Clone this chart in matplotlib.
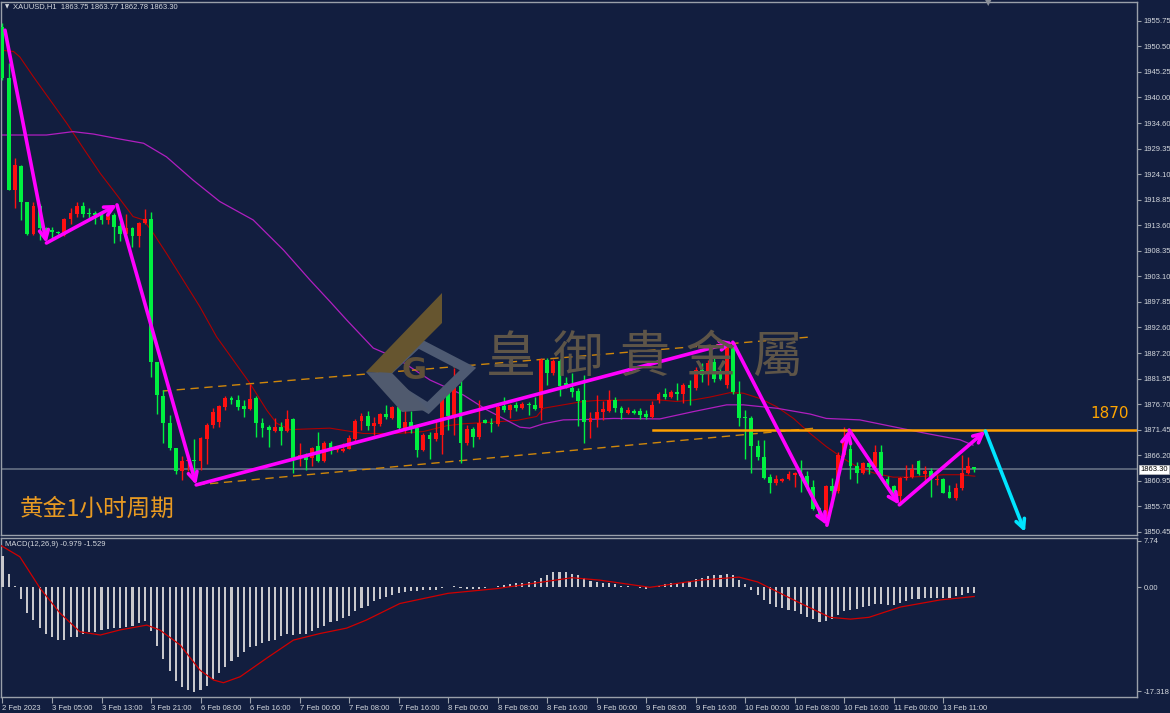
import matplotlib
matplotlib.use('Agg')
import matplotlib.pyplot as plt
from matplotlib.patches import Polygon
import matplotlib.transforms as mtransforms
import numpy as np

# ---------------- data ----------------
opens = [1954.4,1943.9,1920.9,1925.9,1918.3,1911.9,1917.6,1913.0,1912.6,1912.2,
         1911.6,1914.8,1915.9,1917.6,1916.2,1916.2,1915.7,1914.7,1915.7,1913.4,
         1911.9,1913.0,1911.4,1914.1,1914.8,1885.5,1878.4,1872.8,1867.8,1863.0,
         1865.0,1865.3,1865.1,1869.5,1872.4,1873.1,1876.2,1878.1,1877.7,1876.3,
         1875.7,1878.1,1872.9,1872.1,1871.3,1872.1,1871.3,1873.6,1865.6,1866.2,
         1865.6,1868.1,1865.1,1868.8,1867.2,1867.0,1867.6,1869.5,1873.3,1874.3,
         1872.3,1872.7,1874.7,1873.8,1876.1,1871.8,1873.1,1871.8,1867.2,1870.4,
         1869.5,1870.4,1879.3,1874.2,1880.4,1868.8,1871.6,1869.9,1873.5,1872.9,
         1872.7,1876.4,1875.6,1876.6,1875.9,1876.8,1876.6,1875.9,1885.9,1883.2,
         1885.7,1881.0,1880.0,1879.5,1877.5,1873.1,1873.6,1875.2,1875.4,1877.7,
         1875.9,1875.0,1875.4,1875.4,1874.7,1874.0,1877.6,1878.9,1878.3,1879.3,
         1878.8,1880.7,1880.0,1883.8,1883.0,1885.5,1883.1,1880.7,1888.7,1878.8,
         1874.0,1873.8,1868.1,1865.9,1861.7,1860.4,1861.0,1861.3,1862.2,1862.3,
         1861.9,1859.7,1855.3,1853.6,1859.9,1858.9,1866.3,1867.4,1863.9,1862.5,
         1864.6,1863.7,1866.8,1861.3,1859.8,1857.8,1861.5,1861.7,1865.1,1862.4,
         1862.9,1861.1,1861.3,1858.7,1857.5,1859.4,1862.5,1863.75]
highs = [1955.2,1947.0,1927.4,1926.0,1918.3,1918.3,1917.9,1913.3,1913.3,1912.4,
         1915.0,1917.1,1918.3,1918.5,1917.1,1916.6,1916.6,1916.4,1916.2,1914.3,
         1915.9,1913.3,1914.3,1916.9,1916.4,1885.5,1879.6,1874.5,1867.8,1866.0,
         1866.5,1869.5,1870.0,1872.8,1875.9,1876.5,1878.4,1878.4,1878.6,1877.5,
         1880.9,1878.4,1873.8,1872.4,1873.8,1873.1,1875.5,1873.8,1868.7,1866.6,
         1867.9,1871.0,1869.2,1869.2,1867.9,1868.7,1870.4,1873.6,1874.9,1875.4,
         1874.1,1874.9,1876.6,1876.4,1877.6,1877.7,1875.4,1872.0,1870.7,1871.1,
         1873.1,1879.5,1880.0,1884.1,1882.6,1872.5,1872.1,1877.7,1873.6,1873.8,
         1876.6,1878.2,1876.8,1877.1,1877.1,1877.1,1878.2,1886.2,1886.2,1886.0,
         1886.0,1882.4,1883.2,1880.0,1882.8,1875.2,1878.6,1877.3,1879.7,1878.2,
         1876.4,1876.1,1875.8,1875.9,1875.5,1877.3,1879.3,1880.0,1879.6,1881.2,
         1881.0,1881.7,1884.5,1885.2,1885.9,1886.5,1884.1,1889.3,1889.6,1881.6,
         1875.5,1874.2,1869.4,1869.4,1862.4,1862.2,1861.5,1862.9,1862.8,1865.2,
         1863.0,1861.2,1855.6,1860.1,1861.5,1866.8,1872.0,1869.7,1864.9,1864.9,
         1864.9,1868.3,1868.3,1861.9,1860.1,1861.8,1864.2,1864.5,1865.2,1863.9,
         1863.5,1862.2,1861.5,1860.1,1860.4,1866.3,1865.9,1863.77]
lows = [1943.5,1920.9,1917.1,1914.7,1911.6,1911.6,1910.6,1911.2,1911.0,1911.8,
        1911.4,1913.9,1915.4,1915.4,1915.0,1913.9,1913.9,1913.9,1909.9,1910.4,
        1911.6,1909.2,1909.2,1913.9,1882.4,1874.8,1868.7,1867.3,1862.3,1861.1,
        1863.0,1861.1,1863.2,1864.5,1871.9,1872.0,1875.5,1876.8,1875.5,1874.0,
        1875.5,1869.9,1870.0,1868.0,1871.1,1868.3,1871.1,1862.6,1863.9,1863.2,
        1864.0,1864.9,1864.8,1866.5,1866.8,1866.8,1867.4,1869.2,1871.4,1871.4,
        1870.4,1872.3,1873.6,1873.6,1871.4,1870.7,1870.7,1865.8,1867.0,1865.4,
        1869.2,1866.5,1871.4,1870.4,1864.6,1868.3,1867.9,1869.5,1872.8,1871.1,
        1872.3,1875.2,1873.8,1875.4,1875.7,1874.5,1875.5,1873.5,1880.7,1882.8,
        1878.4,1880.0,1878.2,1872.3,1868.8,1869.7,1872.0,1873.5,1875.2,1875.2,
        1873.6,1874.7,1874.8,1873.6,1873.6,1873.8,1877.0,1877.9,1878.0,1877.6,
        1876.9,1876.6,1879.7,1881.4,1880.7,1881.4,1881.7,1880.0,1878.9,1872.3,
        1865.4,1862.5,1865.2,1861.3,1858.5,1860.1,1860.8,1861.1,1859.6,1858.7,
        1859.1,1854.9,1853.2,1851.9,1855.6,1858.4,1866.0,1861.3,1860.4,1862.3,
        1862.3,1863.5,1861.3,1859.4,1857.5,1856.0,1861.1,1861.5,1862.2,1860.8,
        1857.7,1860.1,1858.4,1857.4,1857.0,1859.1,1862.3,1862.78]
closes = [1943.9,1920.9,1926.0,1918.3,1911.9,1917.6,1913.0,1912.5,1912.2,1912.0,
          1914.8,1916.2,1917.6,1915.9,1915.9,1915.7,1914.7,1915.7,1913.3,1911.9,
          1913.0,1911.4,1914.1,1914.8,1885.5,1878.6,1872.9,1867.8,1863.0,1865.0,
          1865.3,1865.0,1869.7,1872.4,1875.2,1876.3,1878.1,1877.6,1876.2,1875.7,
          1877.9,1872.9,1871.9,1871.4,1872.1,1871.3,1873.6,1865.6,1866.2,1865.3,
          1867.8,1865.1,1868.8,1867.0,1867.6,1867.6,1869.7,1873.3,1874.3,1872.3,
          1872.9,1874.7,1874.0,1876.1,1871.8,1873.1,1872.0,1867.2,1870.4,1869.5,
          1870.7,1879.3,1874.2,1880.4,1868.8,1871.6,1869.9,1872.8,1872.9,1872.7,
          1876.2,1875.5,1876.6,1875.9,1876.8,1876.6,1875.7,1885.9,1883.2,1885.7,
          1880.4,1880.7,1879.3,1877.3,1873.1,1873.8,1875.2,1875.7,1877.7,1875.9,
          1875.0,1875.5,1875.0,1874.5,1874.0,1876.6,1878.9,1878.3,1879.3,1878.8,
          1880.7,1880.0,1883.8,1882.8,1885.3,1881.9,1881.9,1888.6,1879.3,1873.8,
          1873.8,1868.1,1865.9,1861.5,1860.4,1861.3,1861.3,1862.4,1862.6,1862.0,
          1859.7,1855.1,1853.6,1859.9,1858.9,1866.3,1869.4,1863.9,1862.5,1864.6,
          1863.7,1866.8,1861.9,1859.6,1857.8,1861.5,1861.8,1863.3,1862.4,1862.9,
          1861.7,1861.4,1858.5,1857.4,1859.4,1862.5,1863.9,1863.30]

macd_hist = [5.3,2.3,0.3,-1.9,-4.2,-5.4,-6.7,-7.7,-8.3,-8.8,
             -8.8,-8.2,-8.2,-7.8,-7.5,-7.5,-7.1,-6.9,-6.7,-6.7,
             -6.6,-6.4,-6.0,-5.6,-7.2,-9.7,-11.9,-13.9,-15.6,-16.6,
             -17.1,-17.5,-17.1,-16.4,-15.3,-14.3,-13.3,-12.3,-11.6,-10.8,
             -10.0,-9.7,-9.3,-9.0,-8.8,-8.1,-7.7,-7.9,-7.8,-7.7,
             -7.3,-6.7,-6.4,-5.8,-5.6,-5.1,-4.7,-3.9,-3.4,-3.1,
             -2.3,-1.9,-1.6,-1.2,-1.0,-0.8,-0.6,-0.6,-0.5,-0.5,
             -0.4,-0.1,0.0,0.3,-0.1,-0.2,-0.3,-0.2,-0.1,0.0,
             0.2,0.4,0.5,0.7,0.8,0.9,1.0,1.6,2.1,2.5,
             2.6,2.5,2.3,2.0,1.5,1.1,0.9,0.8,0.7,0.5,
             0.3,0.2,0.0,-0.1,-0.2,0.1,0.3,0.5,0.7,0.8,
             0.9,1.1,1.4,1.6,1.9,2.0,2.0,2.3,2.0,1.3,
             0.5,-0.5,-1.3,-2.1,-2.8,-3.2,-3.5,-3.7,-4.0,-4.4,
             -4.9,-5.3,-5.8,-5.6,-5.2,-4.6,-4.0,-3.8,-3.6,-3.3,
             -3.1,-2.8,-2.8,-2.9,-2.9,-2.6,-2.3,-2.0,-1.9,-1.8,
             -1.8,-1.7,-1.7,-1.7,-1.5,-1.2,-1.0,-0.979]

signal_idx = [-0.4,2.8,6.1,9.3,12.5,15.8,19.0,23.3,25.4,28.7,31.9,34.1,35.7,
              38.4,42.7,47.0,51.3,55.6,58.8,64.2,72.0,80.0,88.0,92.0,96.5,
              104.6,112.7,119.0,122.0,128.8,133.7,137.0,140.0,145.0,151.5,157.0]
signal_val = [7.05,5.1,-0.2,-4.3,-7.4,-7.95,-7.1,-6.3,-7.1,-9.6,-13.8,-15.45,-15.9,
              -14.9,-11.8,-8.8,-7.7,-6.8,-5.45,-2.7,-1.0,-0.2,1.0,1.6,1.2,
              0.0,1.2,1.7,0.9,-2.6,-5.0,-5.3,-5.0,-3.3,-2.1,-1.529]

ma_fast_idx = [-0.4,1.8,2.8,5.0,7.7,10.4,13.1,15.8,18.5,21.1,22.8,24.4,26.5,29.2,
               31.9,34.6,37.3,40.0,42.7,44.3,46.5,50.8,52.9,58.3,63.7,68.0,71.8,
               74.5,79.8,83.1,86.3,87.4,90.6,93.8,96.0,101.4,106.2,108.9,111.6,
               114.3,117.5,119.7,122.4,125.1,127.8,130.5,133.1,135.8,138.5,141.2,
               143.9,146.6,149.3,152.0,154.7,157.1]
ma_fast_val = [1949.7,1949.4,1948.3,1944.2,1939.4,1934.6,1929.4,1924.3,1919.8,1915.4,
               1914.7,1911.9,1907.8,1902.3,1896.8,1890.6,1885.8,1881.0,1875.5,1872.8,
               1871.5,1871.7,1871.8,1870.7,1870.7,1871.1,1872.3,1872.7,1873.1,1873.4,
               1874.2,1875.9,1876.6,1877.3,1877.5,1877.6,1877.6,1877.3,1877.6,1878.2,
               1879.1,1879.0,1877.9,1876.2,1873.8,1870.7,1868.0,1865.6,1863.5,1862.4,
               1861.7,1861.7,1861.9,1862.2,1862.2,1861.9]

ma_slow_idx = [-0.4,7.1,11.4,14.7,18.4,22.8,26.5,30.8,35.1,40.5,45.4,49.7,52.9,
               55.6,59.9,63.7,69.1,74.5,78.2,80.9,83.6,85.2,87.4,90.6,94.9,98.7,
               106.2,111.6,117.0,119.7,125.1,130.5,133.1,138.5,143.9,149.3,154.7,156.8]
ma_slow_val = [1932.2,1932.2,1932.9,1932.4,1931.5,1930.5,1927.7,1922.9,1918.5,1914.7,
               1908.5,1902.3,1897.9,1894.1,1888.3,1886.2,1881.7,1878.6,1875.6,1873.8,
               1872.0,1871.8,1872.7,1873.5,1873.6,1873.8,1873.7,1875.2,1876.6,1876.6,
               1875.9,1874.7,1873.8,1873.5,1872.1,1870.7,1869.4,1868.3]

zigzag_idx = [0.4,7.1,18.5,31.3,118.0,133.2,136.8,144.9,158.8]
zigzag_val = [1953.8,1909.95,1917.8,1860.1,1889.5,1851.8,1871.4,1856.0,1871.2]
forecast_idx = [158.8,165.2]
forecast_val = [1871.2,1850.4]

chan_upper_idx = [25.9,130.5]
chan_upper_val = [1879.45,1890.58]
chan_lower_idx = [31.3,131.3]
chan_lower_val = [1860.1,1871.8]
level_start_idx = 105.1
level_price = 1871.5
last_price = 1863.30

price_ticks = [1955.75,1950.50,1945.25,1940.00,1934.60,1929.35,1924.10,1918.85,
               1913.60,1908.35,1903.10,1897.85,1892.60,1887.20,1881.95,1876.70,
               1871.45,1866.20,1860.95,1855.70,1850.45]
macd_ticks = [7.74,0.0,-17.318]
macd_tick_labels = ['7.74','0.00','-17.318']
time_labels = ['2 Feb 2023','3 Feb 05:00','3 Feb 13:00','3 Feb 21:00','6 Feb 08:00',
               '6 Feb 16:00','7 Feb 00:00','7 Feb 08:00','7 Feb 16:00','8 Feb 00:00',
               '8 Feb 08:00','8 Feb 16:00','9 Feb 00:00','9 Feb 08:00','9 Feb 16:00',
               '10 Feb 00:00','10 Feb 08:00','10 Feb 16:00','11 Feb 00:00','13 Feb 11:00']

# ---------------- styling ----------------
BG = '#121E3F'
UP = '#FF1010'
DN = '#00F040'
FRAME = '#9AA0AA'
TXT = '#D4D8DE'
SMALL = dict(family=['Liberation Sans', 'DejaVu Sans'], size=5.5)
W, H = 1170, 713

def fx(px):
    return px / W

def fy(py):
    return 1 - py / H

fig = plt.figure(figsize=(W / 100, H / 100), dpi=100, facecolor=BG)
ax = fig.add_axes([fx(1), fy(535), fx(1137) - fx(1), fy(2) - fy(535)], facecolor=BG)
axm = fig.add_axes([fx(1), fy(697), fx(1137) - fx(1), fy(538) - fy(697)], facecolor=BG)

n = len(opens)
idx = np.arange(n)
o = np.array(opens); h = np.array(highs); l = np.array(lows); c = np.array(closes)
cols = [UP if cc >= oo else DN for oo, cc in zip(o, c)]

# watermark (behind everything)
def figpoly(pts, **kw):
    p = Polygon([(fx(x), fy(y)) for x, y in pts], closed=True, transform=fig.transFigure, **kw)
    fig.patches.append(p)

figpoly([(418, 343), (468, 369), (428, 408), (380, 378)], facecolor='none',
        edgecolor='#4E5A72', linewidth=7, zorder=0.5)
figpoly([(442, 293), (442, 323), (392, 373), (366, 372)], facecolor='#66552F',
        edgecolor='none', zorder=0.6)
figpoly([(366, 372), (392, 373), (428, 410), (402, 412)], facecolor='#505A6E',
        edgecolor='none', zorder=0.6)
fig.text(fx(414), fy(371), 'G', fontsize=22, fontweight='bold', color='#5F5038',
         ha='center', va='center', zorder=0.7)
for k, ch in enumerate('皇御貴金屬'):
    fig.text(fx(511 + 66.5 * k), fy(358), ch, fontsize=36, color='#5E5548',
             family=['Noto Sans CJK TC', 'DejaVu Sans'], ha='center', va='center', zorder=0.7)

ax.patch.set_alpha(0)
axm.patch.set_alpha(0)

# candles
ax.vlines(idx, l, h, colors=cols, linewidth=1.0, zorder=3)
body_bottom = np.minimum(o, c)
body_height = np.maximum(np.abs(c - o), 0.22)
ax.bar(idx, body_height, bottom=body_bottom, width=0.62, color=cols, linewidth=0, zorder=4)

# moving averages
ax.plot(ma_fast_idx, ma_fast_val, color='#B00000', lw=0.8, zorder=2)
ax.plot(ma_slow_idx, ma_slow_val, color='#B01EC0', lw=0.9, zorder=2)

# channel, level and price line
ax.plot(chan_upper_idx, chan_upper_val, color='#D0870A', lw=1.0, ls=(0, (6, 4)), zorder=2.5)
ax.plot(chan_lower_idx, chan_lower_val, color='#D0870A', lw=1.0, ls=(0, (6, 4)), zorder=2.5)
ax.axhline(last_price, color='#667083', lw=1.2, zorder=1.5)
ax.plot([level_start_idx, 190], [level_price, level_price], color='#FFA000', lw=1.8, zorder=5)

# zigzag arrows
for k in range(len(zigzag_idx) - 1):
    ax.annotate('', xy=(zigzag_idx[k + 1], zigzag_val[k + 1]),
                xytext=(zigzag_idx[k], zigzag_val[k]),
                arrowprops=dict(arrowstyle='->', color='#FF00FF', lw=2.6,
                                mutation_scale=16, shrinkA=0, shrinkB=0), zorder=6)
ax.annotate('', xy=(forecast_idx[1], forecast_val[1]), xytext=(forecast_idx[0], forecast_val[0]),
            arrowprops=dict(arrowstyle='->', color='#00E5FF', lw=2.6,
                            mutation_scale=16, shrinkA=0, shrinkB=0), zorder=6)

# axis limits (MT4 scale)
xl = (-0.24, 183.3)
ax.set_xlim(*xl)
ax.set_ylim(1849.78, 1959.61)
axm.set_xlim(*xl)
axm.set_ylim(-18.28, 8.22)

# MACD panel
axm.bar(idx, macd_hist, width=0.34, color='#C8C8CC', linewidth=0, zorder=3)
axm.plot(signal_idx, signal_val, color='#D00000', lw=0.9, zorder=4)

for a in (ax, axm):
    for s in a.spines.values():
        s.set_color(FRAME)
        s.set_linewidth(1.0)
    a.yaxis.tick_right()
    a.tick_params(axis='y', direction='out', length=3, width=0.8, colors=FRAME,
                  labelcolor=TXT, pad=1.5)

ax.set_yticks(price_ticks)
ax.set_yticklabels(['%.2f' % v for v in price_ticks], fontdict=SMALL)
ax.set_xticks([])
axm.set_yticks(macd_ticks)
axm.set_yticklabels(macd_tick_labels, fontdict=SMALL)
axm.set_xticks(np.arange(0, 8 * len(time_labels), 8))
axm.set_xticklabels(time_labels, ha='left', fontdict=SMALL)
axm.tick_params(axis='x', direction='out', length=4, width=0.8, colors=FRAME,
                labelcolor=TXT, pad=2)

# current price label
trans = mtransforms.blended_transform_factory(ax.transAxes, ax.transData)
ax.text(1.003, last_price, '1863.30', transform=trans, color='#000000',
        va='center', ha='left', fontdict=SMALL,
        bbox=dict(facecolor='white', edgecolor='#C0C0C0', pad=0.8, lw=0.5),
        zorder=10, clip_on=False)

# texts
fig.text(fx(5), fy(7), '\u25BC', fontsize=4, color=TXT, va='center', ha='left')
fig.text(fx(13), fy(7), 'XAUUSD,H1  1863.75 1863.77 1862.78 1863.30', fontdict=SMALL,
         color=TXT, va='center', ha='left')
fig.text(fx(5), fy(544), 'MACD(12,26,9) -0.979 -1.529', fontdict=SMALL, color=TXT,
         va='center', ha='left')
fig.text(fx(988), fy(3), '\u25BC', fontsize=6, color='#8A8F99', va='center', ha='center')
fig.text(fx(1110), fy(413), '1870', fontsize=11, color='#FFA500', ha='center', va='center')
fig.text(fx(20), fy(509), '黄金1小时周期', fontsize=17, color='#E89A22',
         family=['Noto Sans CJK SC', 'DejaVu Sans'], ha='left', va='center')

fig.savefig('out.png', dpi=100, facecolor=BG)
